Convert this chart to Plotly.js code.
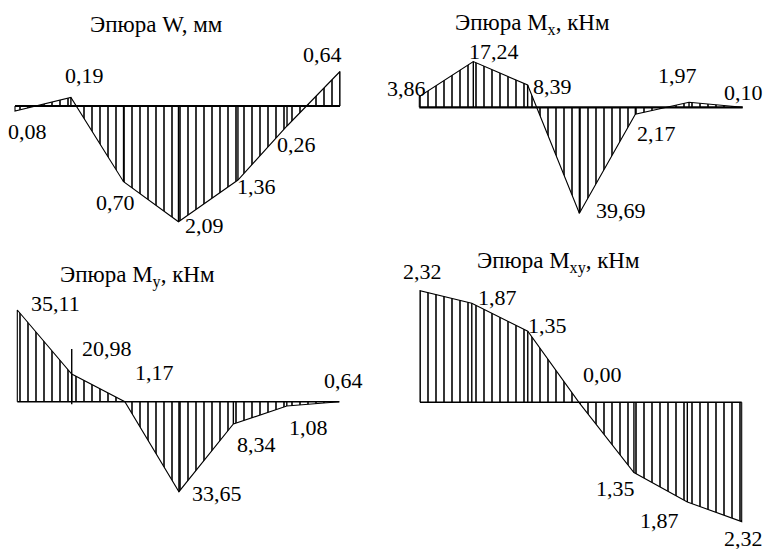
<!DOCTYPE html>
<html>
<head>
<meta charset="utf-8">
<script src="https://cdn.plot.ly/plotly-3.0.1.min.js"></script>
<style>html,body{margin:0;padding:0;background:#fff;}#chart{width:765px;height:549px;}</style>
</head>
<body>
<div id="chart"></div>
<script>
// ---- data ----
// node positions along the span (fraction of span) and drawn ordinates (diagram scale, up = positive)
const wPos   = [0, 0.172, 0.334, 0.503, 0.686, 0.837, 1];
const wOrd   = [-5, 8.5, -75.7, -115.7, -74, -20, 34.5];
const wLabels = ['0,08', '0,19', '0,70', '2,09', '1,36', '0,26', '0,64'];

const mxPos  = [0, 0.167, 0.335, 0.495, 0.668, 0.834, 1];
const mxOrd  = [10.7, 45.7, 22.3, -106, -7, 5, 0];
const mxLabels = ['3,86', '17,24', '8,39', '39,69', '2,17', '1,97', '0,10'];

const myPos  = [0, 0.169, 0.334, 0.502, 0.671, 0.837, 1];
const myOrd  = [91.7, 27.7, 0, -90, -22.3, -4.3, 0];
const myLabels = ['35,11', '20,98', '1,17', '33,65', '8,34', '1,08', '0,64'];
const myNode1Mark = [-2.5, 52.7];

const mxyPos = [0, 0.161, 0.335, 0.494, 0.665, 0.831, 1];
const mxyOrd = [111.7, 99, 71, 0, -70.3, -99.7, -119.3];
const mxyLabels = ['2,32', '1,87', '1,35', '0,00', '1,35', '1,87', '2,32'];

const titles = ['Эпюра W, мм', 'Эпюра M<sub>x</sub>, кНм', 'Эпюра M<sub>y</sub>, кНм', 'Эпюра M<sub>xy</sub>, кНм'];

// ---- layout / style ----
const W = 765, H = 549;
const FONT = 'Liberation Serif';
const LABEL_SIZE = 22, TITLE_SIZE = 23;
const panels = [
  {pos: wPos, ord: wOrd, labels: wLabels, left: 15, right: 340, zero: 106, axisW: 2.2,
   title: [156, 25],
   off: [[12,-20],[14,22.5],[-8.5,-20.3],[26.5,-3.3],[19,-6],[9,-18],[-18,17.5]]},
  {pos: mxPos, ord: mxOrd, labels: mxLabels, left: 419.3, right: 742.7, zero: 107.3, axisW: 2.2,
   title: [532, 24],
   off: [[-13.3,8.6],[20.7,10.6],[25.3,-1],[41.7,3.3],[21,-18.7],[-12,27.3],[0.3,15.3]]},
  {pos: myPos, ord: myOrd, labels: myLabels, left: 17.3, right: 339.3, zero: 401.7, axisW: 1.6,
   title: [137, 276],
   off: [[37.7,7],[35.3,26],[30,29.7],[38,-1.3],[22.7,-20],[21.3,-21],[3.7,21.7]]},
  {pos: mxyPos, ord: mxyOrd, labels: mxyLabels, left: 420, right: 741.7, zero: 402.3, axisW: 1.4,
   title: [558, 263],
   off: [[2,19.6],[25.3,6.3],[19.3,6.3],[24,28.3],[-18,-15.4],[-28.3,-18],[1.3,-16.5]]}
];

const traces = [];
const layout = {
  width: W, height: H,
  margin: {l: 0, r: 0, t: 0, b: 0},
  paper_bgcolor: '#fff', plot_bgcolor: 'rgba(0,0,0,0)',
  showlegend: false,
  font: {family: FONT, size: LABEL_SIZE, color: '#000'},
  annotations: []
};

panels.forEach((p, i) => {
  const n = i === 0 ? '' : String(i + 1);
  const xa = 'x' + n, ya = 'y' + n;
  const span = p.right - p.left;
  layout['xaxis' + n] = {domain: [0, 1], range: [-p.left / span, (W - p.left) / span],
    visible: false, fixedrange: true, anchor: ya};
  layout['yaxis' + n] = {domain: [0, 1], range: [p.zero - H, p.zero],
    visible: false, fixedrange: true, anchor: xa};

  // hatched area
  traces.push({type: 'scatter', mode: 'none', x: p.pos, y: p.ord, xaxis: xa, yaxis: ya,
    fill: 'tozeroy', fillcolor: '#fff',
    fillpattern: {shape: '|', size: 8, solidity: 0.22, fgcolor: '#1a1a1a', bgcolor: '#fff'},
    hoverinfo: 'skip'});

  // node ordinate lines
  const nx = [], ny = [];
  p.pos.forEach((x, k) => { if (k > 0 && k < p.pos.length - 1) { nx.push(x, x, null); ny.push(0, p.ord[k], null); } });
  if (i === 2) { nx.push(p.pos[1], p.pos[1], null); ny.push(myNode1Mark[0], myNode1Mark[1], null); }
  traces.push({type: 'scatter', mode: 'lines', x: nx, y: ny, xaxis: xa, yaxis: ya,
    line: {color: '#000', width: 1.4}, hoverinfo: 'skip'});

  // outline (with end verticals)
  traces.push({type: 'scatter', mode: 'lines', x: [0].concat(p.pos, [1]), y: [0].concat(p.ord, [0]),
    xaxis: xa, yaxis: ya, line: {color: '#000', width: 1.1}, hoverinfo: 'skip'});

  // base axis
  traces.push({type: 'scatter', mode: 'lines', x: [0, 1], y: [0, 0], xaxis: xa, yaxis: ya,
    line: {color: '#000', width: p.axisW}, hoverinfo: 'skip'});

  // value labels
  p.labels.forEach((t, k) => {
    layout.annotations.push({xref: xa, yref: ya, x: p.pos[k], y: p.ord[k], text: t,
      showarrow: false, xanchor: 'center', yanchor: 'middle',
      xshift: p.off[k][0], yshift: p.off[k][1], font: {family: FONT, size: LABEL_SIZE, color: '#000'}});
  });

  // title
  layout.annotations.push({xref: 'paper', yref: 'paper', x: p.title[0] / W, y: 1 - p.title[1] / H,
    text: titles[i], showarrow: false, xanchor: 'center', yanchor: 'middle',
    font: {family: FONT, size: TITLE_SIZE, color: '#000'}});
});

Plotly.newPlot('chart', traces, layout, {staticPlot: true, displayModeBar: false});
</script>
</body>
</html>
